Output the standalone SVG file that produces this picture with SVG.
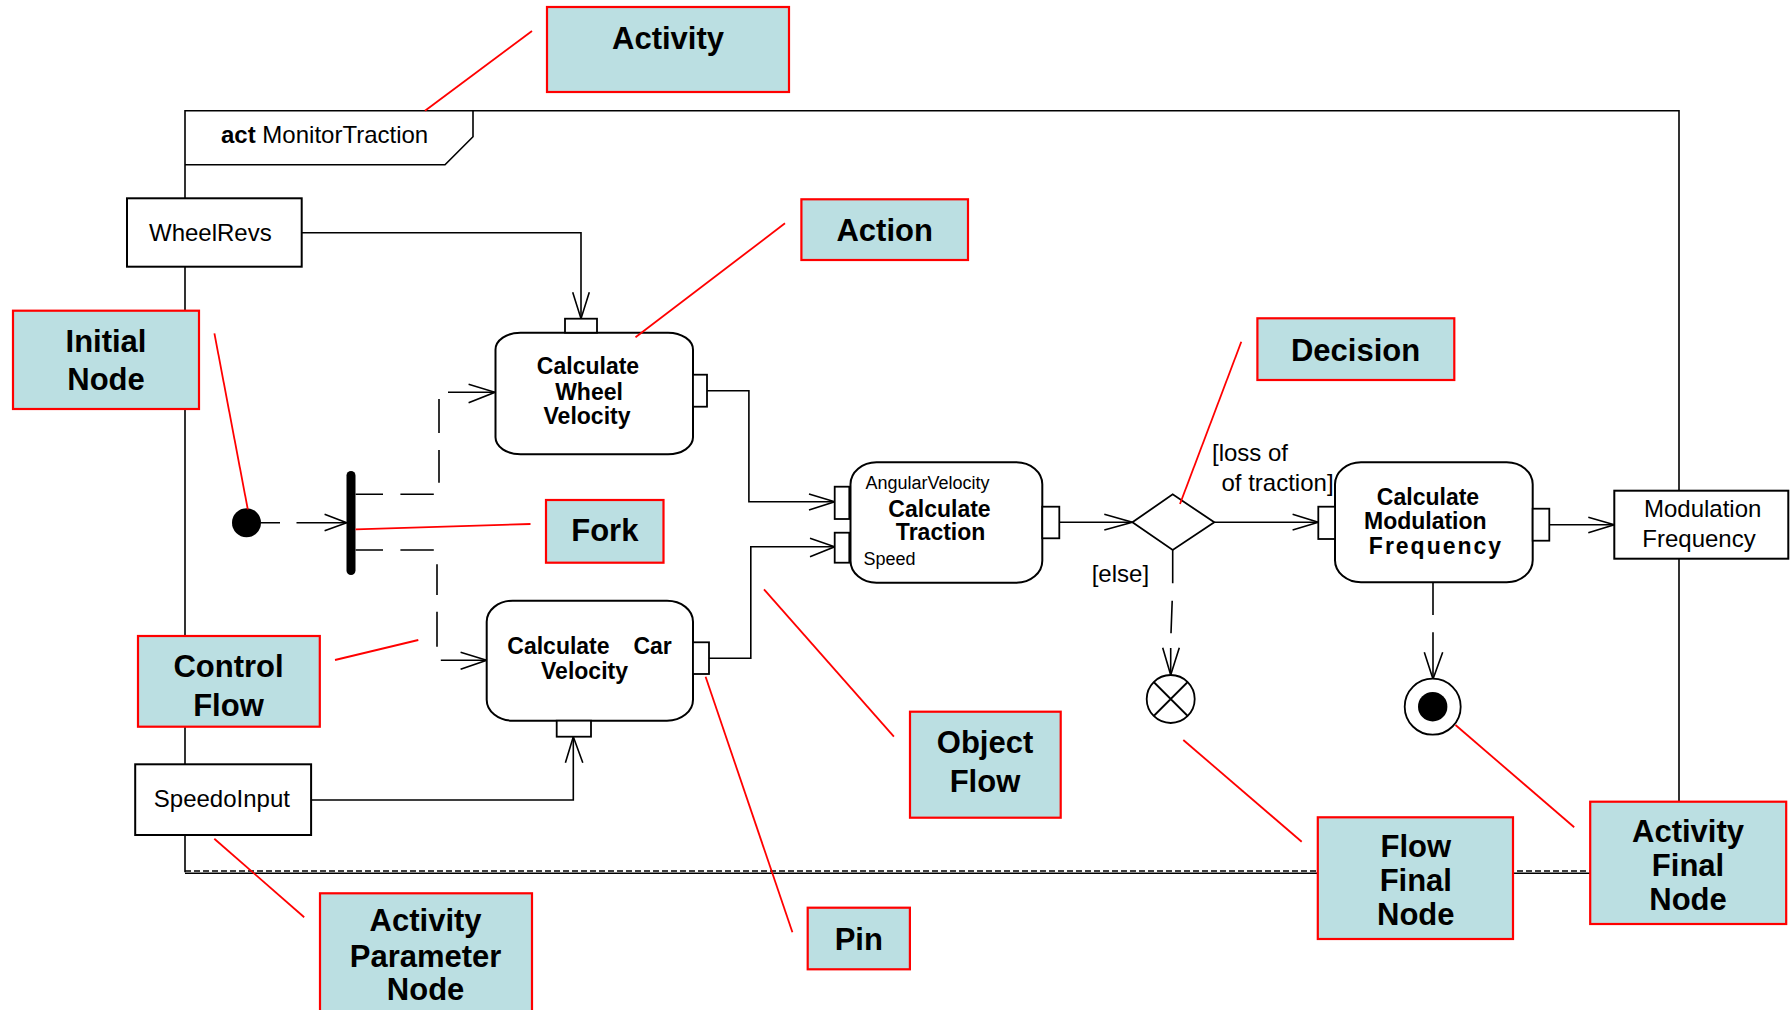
<svg xmlns="http://www.w3.org/2000/svg" width="1790" height="1010" viewBox="0 0 1790 1010">
<style>
text{font-family:"Liberation Sans",Arial,Helvetica,sans-serif;fill:#000}
.lbl rect{fill:#BBDFE2;stroke:#FF0000;stroke-width:2.2}
.lbl text{font-size:31px;font-weight:bold;text-anchor:middle}
.lead{stroke:#FF0000;stroke-width:1.8;fill:none}
.act{fill:#fff;stroke:#000;stroke-width:2}
.box{fill:#fff;stroke:#000;stroke-width:2}
.pin{fill:#fff;stroke:#000;stroke-width:1.8}
.ln{fill:none;stroke:#000;stroke-width:1.6}
.ah{fill:none;stroke:#000;stroke-width:1.6}
.an{font-size:23px;font-weight:bold;text-anchor:middle}
.an.st{text-anchor:start}
.an.en{text-anchor:end}
.on{font-size:24px}
.sm{font-size:18px}
</style>

<g id="frame">
  <path class="ln" d="M185,872.3 V110.7 H1679 V801.7"/>
  <line x1="185" y1="873.2" x2="1590" y2="873.2" stroke="#000" stroke-width="1.6"/>
  <line x1="185" y1="871" x2="1590" y2="871" stroke="#000" stroke-width="1.6" stroke-dasharray="6 3"/>
  <path class="ln" d="M185,164.7 H445 L473,136.7 V110.7"/>
  <text x="221" y="143" font-size="24"><tspan font-weight="bold">act</tspan> MonitorTraction</text>
</g>

<g id="connectors">
  <!-- object flows -->
  <path class="ln" d="M301.7,232.7 H581 V318.7"/>
  <path class="ah" d="M572.7,292.3 L581,318.7 L589.3,292.3"/>
  <path class="ln" d="M311,800 H573.3 V736.7"/>
  <path class="ah" d="M565.4,762.7 L573.3,736.7 L582.8,762.7"/>
  <path class="ln" d="M707,390.7 H748.9 V501.7 H834.7"/>
  <path class="ah" d="M809,494 L834.7,501.7 L809,510"/>
  <path class="ln" d="M709,658.3 H750.8 V546.7 H834.7"/>
  <path class="ah" d="M810,538.3 L834.7,546.7 L810,556.7"/>
  <path class="ln" d="M1059.3,522.3 H1132.4"/>
  <path class="ah" d="M1104.3,514.3 L1132.4,522.3 L1104.3,530"/>
  <path class="ln" d="M1214.3,522.3 H1318.3"/>
  <path class="ah" d="M1292.6,514.3 L1318.3,522.3 L1292.6,530"/>
  <path class="ln" d="M1549.3,524.7 H1614.3"/>
  <path class="ah" d="M1588.3,517.3 L1614.3,524.7 L1588.3,532.7"/>
  <!-- control flows (dashed) -->
  <path class="ln" d="M261,522.7 H280 M296.5,522.7 H346.7"/>
  <path class="ah" d="M324.6,514.3 L346.7,522.7 L324.6,530.7"/>
  <path class="ln" d="M355.6,494.3 H383 M400.4,494.3 H433.8 M439,482.7 V450 M439,433 V399 M448,392.3 H495"/>
  <path class="ah" d="M468.6,384.3 L495,392.3 L468.6,402.7"/>
  <path class="ln" d="M355.6,550 H383 M400.4,550 H433.8 M437,564.3 V595 M437,611.7 V646.7 M440.8,660.3 H486.7"/>
  <path class="ah" d="M460.6,652.3 L486.7,660.3 L460.6,669.3"/>
  <path class="ln" d="M1172.7,550 V583.3 M1172.2,600.7 L1171,633.3 M1170.7,648 V675"/>
  <path class="ah" d="M1162.7,647.7 L1170.7,675 L1179.3,647.7"/>
  <path class="ln" d="M1433,582.3 V615 M1433,632.3 V679"/>
  <path class="ah" d="M1424.3,652.3 L1433,679 L1442.7,652.3"/>
  <text x="1212" y="461" font-size="24">[loss of</text>
  <text x="1221.5" y="490.5" font-size="24">of traction]</text>
  <text x="1091.7" y="581.7" font-size="24">[else]</text>
</g>

<g id="WheelRevs">
  <rect class="box" x="127" y="198.3" width="174.7" height="68.4"/>
  <text class="on" x="149" y="241">WheelRevs</text>
</g>
<g id="SpeedoInput">
  <rect class="box" x="135.2" y="764.3" width="175.9" height="70.7"/>
  <text class="on" x="153.8" y="807.3">SpeedoInput</text>
</g>
<g id="ModulationFrequency">
  <rect class="box" x="1614.3" y="490.7" width="174" height="68"/>
  <text class="on" x="1702.7" y="517.3" text-anchor="middle">Modulation</text>
  <text class="on" x="1699" y="546.7" text-anchor="middle">Frequency</text>
</g>

<g id="InitialNode">
  <circle cx="246.5" cy="522.7" r="14.5" fill="#000"/>
</g>
<g id="ForkNode">
  <rect x="346.5" y="471" width="9" height="104" rx="4.5" fill="#000"/>
</g>

<g id="CalculateWheelVelocity">
  <rect class="act" x="495.5" y="332.7" width="197.5" height="121.6" rx="25" ry="17"/>
  <rect class="pin" x="565" y="318.7" width="32" height="14"/>
  <rect class="pin" x="693" y="374.7" width="14" height="32"/>
  <text class="an" x="588" y="374">Calculate</text>
  <text class="an" x="589" y="400">Wheel</text>
  <text class="an" x="587" y="424">Velocity</text>
</g>

<g id="CalculateCarVelocity">
  <rect class="act" x="486.7" y="600.7" width="206.3" height="120" rx="26" ry="21"/>
  <rect class="pin" x="693" y="642.3" width="16" height="31.7"/>
  <rect class="pin" x="556.7" y="720.7" width="34.3" height="16"/>
  <text class="an st" x="507.3" y="654">Calculate</text>
  <text class="an en" x="671.8" y="654">Car</text>
  <text class="an" x="584.5" y="679">Velocity</text>
</g>

<g id="CalculateTraction">
  <rect class="act" x="850.5" y="462.3" width="191.8" height="120.4" rx="26" ry="22"/>
  <rect class="pin" x="834.7" y="486.7" width="14.6" height="32.3"/>
  <rect class="pin" x="834.7" y="532.7" width="14.6" height="30"/>
  <rect class="pin" x="1042.3" y="506.7" width="17" height="31.6"/>
  <text class="sm" x="865.5" y="489">AngularVelocity</text>
  <text class="an" x="939.5" y="517.3">Calculate</text>
  <text class="an" x="940.6" y="540">Traction</text>
  <text class="sm" x="863.5" y="565">Speed</text>
</g>

<g id="DecisionNode">
  <path d="M1132.4,522.3 L1172.7,494.3 L1214.3,522.3 L1172.7,550 Z" fill="#fff" stroke="#000" stroke-width="1.8"/>
</g>

<g id="CalculateModulationFrequency">
  <rect class="act" x="1335" y="462.3" width="197.7" height="120" rx="26" ry="22"/>
  <rect class="pin" x="1318.3" y="506.7" width="16.7" height="32.3"/>
  <rect class="pin" x="1532.7" y="508.7" width="16.6" height="32"/>
  <text class="an" x="1428" y="505">Calculate</text>
  <text class="an" x="1425.3" y="529">Modulation</text>
  <text class="an" x="1436" y="554" letter-spacing="2">Frequency</text>
</g>

<g id="FlowFinalNode">
  <circle cx="1170.7" cy="699" r="24" fill="#fff" stroke="#000" stroke-width="1.8"/>
  <path d="M1153.7,682 L1187.7,716 M1187.7,682 L1153.7,716" stroke="#000" stroke-width="1.8"/>
</g>

<g id="ActivityFinalNode">
  <circle cx="1432.7" cy="706.7" r="28" fill="#fff" stroke="#000" stroke-width="1.8"/>
  <circle cx="1432.7" cy="706.7" r="14.7" fill="#000"/>
</g>

<g id="annotations">
  <path class="lead" d="M532,31 L425,110.7"/>
  <path class="lead" d="M785,223.3 L635.5,337.3"/>
  <path class="lead" d="M214.4,333.3 L247.8,509.3"/>
  <path class="lead" d="M1241.3,341.7 L1180,504"/>
  <path class="lead" d="M355.6,529.3 L530.5,524"/>
  <path class="lead" d="M335,660 L418.3,640"/>
  <path class="lead" d="M764,589.3 L893.9,736.7"/>
  <path class="lead" d="M705.6,676.7 L792.4,932.3"/>
  <path class="lead" d="M214.3,838.7 L304.2,917.3"/>
  <path class="lead" d="M1183.3,740 L1301.7,841.7"/>
  <path class="lead" d="M1455.5,725 L1574.2,827.3"/>

  <g id="lbl-activity" class="lbl"><rect x="547" y="7" width="242" height="85"/><text x="668" y="49">Activity</text></g>
  <g id="lbl-action" class="lbl"><rect x="801.4" y="199.3" width="166.6" height="60.7"/><text x="884.7" y="241">Action</text></g>
  <g id="lbl-initial" class="lbl"><rect x="13" y="310.7" width="186" height="98.3"/><text x="106" y="352.3">Initial</text><text x="106" y="390">Node</text></g>
  <g id="lbl-decision" class="lbl"><rect x="1257.4" y="318.3" width="196.9" height="61.7"/><text x="1355.6" y="361">Decision</text></g>
  <g id="lbl-fork" class="lbl"><rect x="546" y="500" width="117.5" height="62.7"/><text x="604.8" y="540.7">Fork</text></g>
  <g id="lbl-control" class="lbl"><rect x="138" y="636" width="181.8" height="90.7"/><text x="228.5" y="677.3">Control</text><text x="228.5" y="716">Flow</text></g>
  <g id="lbl-object" class="lbl"><rect x="910" y="711.7" width="150.7" height="106"/><text x="985" y="753.3">Object</text><text x="985" y="791.7">Flow</text></g>
  <g id="lbl-param" class="lbl"><rect x="320" y="893.3" width="212" height="125"/><text x="425.6" y="931">Activity</text><text x="425.6" y="966.7">Parameter</text><text x="425.6" y="1000">Node</text></g>
  <g id="lbl-pin" class="lbl"><rect x="807.7" y="907.7" width="102.2" height="61.6"/><text x="858.8" y="950">Pin</text></g>
  <g id="lbl-flowfinal" class="lbl"><rect x="1317.8" y="817.3" width="195.2" height="121.7"/><text x="1415.8" y="856.7">Flow</text><text x="1415.8" y="891">Final</text><text x="1415.8" y="925">Node</text></g>
  <g id="lbl-actfinal" class="lbl"><rect x="1590.2" y="801.7" width="196" height="122.3"/><text x="1688" y="841.7">Activity</text><text x="1688" y="876">Final</text><text x="1688" y="910">Node</text></g>
</g>
</svg>
